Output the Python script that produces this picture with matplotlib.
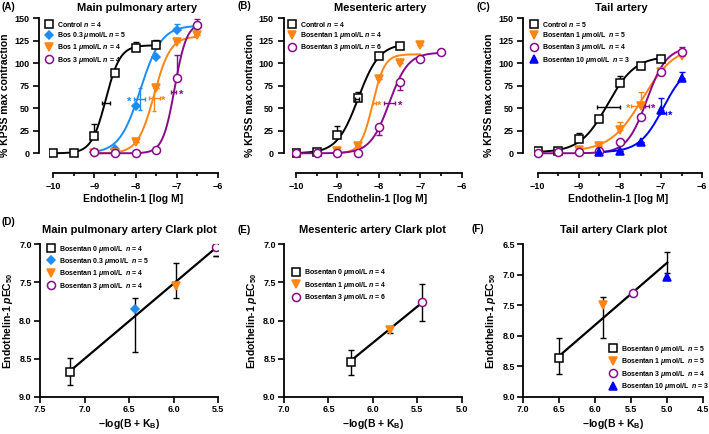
import numpy as np
import matplotlib
matplotlib.use("Agg")
import matplotlib.pyplot as plt
from matplotlib.ticker import MultipleLocator, FormatStrFormatter

plt.rcParams['font.family'] = ['Liberation Sans', 'DejaVu Sans']
plt.rcParams['font.weight'] = 'bold'
plt.rcParams['axes.labelweight'] = 'bold'
plt.rcParams['axes.titleweight'] = 'bold'
plt.rcParams['mathtext.fontset'] = 'custom'
plt.rcParams['mathtext.rm'] = 'Liberation Sans:bold'
plt.rcParams['mathtext.it'] = 'Liberation Sans:italic:bold'
plt.rcParams['mathtext.bf'] = 'Liberation Sans:bold'

BLACK = '#000000'
ORANGE = '#ff8514'
PURPLE = '#8a0a8a'
LBLUE = '#1e8cf0'
BLUE = '#0000ff'

W, H = 709, 434

# ---------------- data: concentration-response (top row) ----------------
# (A) main pulmonary artery
a_ctrl_x = [-10, -9.5, -9, -8.5, -8, -7.5]
a_ctrl_y = [0, 0, 19, 89, 117, 120]
a_ctrl_up = [0, 0, 14, 0, 7, 6]
a_b03_x = [-9, -8.5, -8, -7.5, -7, -6.5]
a_b03_y = [1, 5, 52, 107, 137, 140]
a_b03_up = [0, 0, 0, 0, 7, 0]
a_b1_x = [-9, -8.5, -8, -7.5, -7, -6.5]
a_b1_y = [0, 0, 12, 73, 124, 131]
a_b1_up = [0, 0, 0, 0, 0, 0]
a_b3_x = [-9, -8.5, -8, -7.5, -7, -6.5]
a_b3_y = [1, 0, 0, 4, 84, 143]
a_b3_up = [0, 0, 0, 0, 25, 6]
# fitted curve parameters: bottom, top, logEC50, hill, x start, x end
a_fits = [(0, 120, -8.72, 2.5, -10, -7.5), (0, 142, -7.88, 1.7, -9, -6.5),
          (0, 130, -7.55, 2.2, -9, -6.5), (0, 145, -7.05, 3.0, -9, -6.5)]
# EC50 markers: x, y, xerr, yerr, asterisk x (None = no asterisk)
a_ec50 = [(-8.72, 56, 0.10, 0, None), (-7.90, 60, 0.13, 12, -8.16),
          (-7.54, 61, 0.13, 14, -7.32), (-7.08, 68, 0.06, 0, -6.89)]

# (B) mesenteric artery
b_ctrl_x = [-10, -9.5, -9, -8.5, -8, -7.5]
b_ctrl_y = [0, 1, 20, 61, 108, 119]
b_ctrl_up = [0, 0, 10, 7, 0, 0]
b_b1_x = [-9, -8.5, -8, -7.5, -7]
b_b1_y = [2, 8, 82, 100, 120]
b_b1_up = [0, 0, 0, 0, 0]
b_b3_x = [-10, -9.5, -9, -8.5, -8, -7.5, -7, -6.5]
b_b3_y = [0, 0, 0, 0, 29, 79, 105, 112]
b_b3_dn = [0, 0, 0, 0, 9, 9, 0, 0]
b_fits = [(0, 122, -8.50, 1.7, -10, -7.5), (0, 110, -8.15, 3.0, -9, -7),
          (0, 112, -7.75, 1.9, -10, -6.5)]
b_ec50 = [(-8.53, 60, 0.05, 0, None), (-8.11, 56, 0.04, 0, -8.00),
          (-7.75, 56, 0.13, 0, -7.49)]

# (C) tail artery
c_ctrl_x = [-10, -9.5, -9, -8.5, -8, -7.5, -7]
c_ctrl_y = [2, 3, 16, 38, 78, 97, 105]
c_ctrl_up = [0, 0, 7, 0, 8, 0, 3]
c_b1_x = [-9, -8.5, -8, -7.5, -7, -6.5]
c_b1_y = [4, 8, 26, 53, 90, 108]
c_b1_up = [0, 0, 9, 15, 0, 0]
c_b3_x = [-10, -9.5, -9, -8.5, -8, -7.5, -7, -6.5]
c_b3_y = [0, 1, 1, 2, 12, 40, 90, 113]
c_b3_up = [0, 0, 0, 0, 0, 0, 0, 5]
c_b10_x = [-8.5, -8, -7.5, -7, -6.5]
c_b10_y = [1, 3, 13, 48, 84]
c_b10_up = [0, 0, 0, 13, 6]
c_fits = [(1, 108, -8.30, 1.3, -10, -7), (2, 120, -7.45, 1.1, -9, -6.5),
          (0, 118, -7.35, 1.8, -10, -6.5), (1, 100, -6.95, 1.5, -8.5, -6.5)]
c_ec50 = [(-8.28, 51, 0.28, 0, None), (-7.62, 52, 0.12, 0, -7.80),
          (-7.35, 52, 0.05, 0, -7.19), (-6.95, 45, 0.07, 0, -6.79)]

# ---------------- data: Clark plots (bottom row) ----------------
d_x = [7.16, 6.43, 5.97, 5.53]
d_y = [8.68, 7.85, 7.55, 7.04]
d_err_lo = [8.49, 7.71, 7.24, 7.15]
d_err_hi = [8.85, 8.41, 7.71, 7.15]
d_line = ([7.16, 5.53], [8.66, 7.05])

e_x = [6.25, 5.81, 5.45]
e_y = [8.55, 8.12, 7.76]
e_err_lo = [8.39, 8.08, 7.52]
e_err_hi = [8.72, 8.16, 8.01]
e_line = ([6.25, 5.45], [8.53, 7.77])

f_x = [6.51, 5.89, 5.48, 5.00]
f_y = [8.36, 7.50, 7.30, 7.03]
f_err_lo = [8.03, 7.36, 7.30, 6.63]
f_err_hi = [8.63, 8.03, 7.30, 6.97]
f_line = ([6.51, 5.00], [8.34, 6.80])


def hill(x, bottom, top, ec50, h):
    return bottom + (top - bottom) / (1 + 10 ** ((ec50 - x) * h))


def add_axes_px(fig, left, top, right, bottom):
    return fig.add_axes([left / W, 1 - bottom / H, (right - left) / W, (bottom - top) / H])


def series_style(color, marker, filled, ms):
    face = color if filled else 'white'
    return dict(marker=marker, ms=ms, mfc=face, mec=color, mew=1.1, ls='none')


def style_top(ax, title, title_x, spine_out):
    ax.set_xlim(-10.1, -6)
    ax.set_ylim(-22, 152)
    for s in ['top', 'right']:
        ax.spines[s].set_visible(False)
    ax.spines['left'].set_bounds(0, 150)
    ax.spines['left'].set_position(('outward', spine_out))
    ax.spines['bottom'].set_bounds(-10, -6)
    for s in ['left', 'bottom']:
        ax.spines[s].set_linewidth(1.3)
    ax.set_yticks([0, 25, 50, 75, 100, 125, 150])
    ax.set_xticks([-10, -9, -8, -7, -6])
    ax.xaxis.set_minor_locator(MultipleLocator(0.5))
    ax.tick_params(which='both', direction='out', width=1.2, labelsize=6.5)
    ax.tick_params(axis='y', which='major', length=4.5, pad=2.5)
    ax.tick_params(axis='x', which='major', length=3.5, pad=3)
    ax.tick_params(axis='x', which='minor', length=2.5)
    ax.set_xlabel('Endothelin-1 [log M]', fontsize=7.5, labelpad=2)
    ax.set_ylabel('% KPSS max contraction', fontsize=7.5, labelpad=3)
    ax.set_title(title, fontsize=8, pad=4, x=title_x)


def draw_series(ax, x, y, up, dn, color, marker, filled, ms, fit, label):
    lo = dn if dn is not None else [0] * len(y)
    hi = up if up is not None else [0] * len(y)
    ax.errorbar(x, y, yerr=[lo, hi], fmt='none', ecolor=color, elinewidth=1,
                capsize=2, capthick=1, zorder=2)
    b, t, e, h, x0, x1 = fit
    xs = np.linspace(x0, x1, 200)
    ax.plot(xs, hill(xs, b, t, e, h), color=color, lw=1.4, zorder=3)
    ax.plot(x, y, label=label, zorder=4, **series_style(color, marker, filled, ms))


def draw_ec50(ax, ec, color):
    x, y, xe, ye, ast = ec
    ax.errorbar([x], [y], xerr=[xe], yerr=[ye] if ye else None, fmt='none',
                ecolor=color, elinewidth=1, capsize=1.5, capthick=1, zorder=5)
    if ast is not None:
        ax.text(ast, y - 3, '*', color=color, fontsize=8, ha='center',
                va='center', zorder=6)


def add_legend(ax, x, y):
    ax.legend(loc='upper left', bbox_to_anchor=(x, y), frameon=False,
              fontsize=5.0, handlelength=1.0, handletextpad=0.6,
              labelspacing=0.2, borderpad=0, borderaxespad=0)


def style_clark(ax, title, xlim, ylim):
    ax.set_xlim(*xlim)
    ax.set_ylim(*ylim)
    for s in ['top', 'right']:
        ax.spines[s].set_visible(False)
    for s in ['left', 'bottom']:
        ax.spines[s].set_linewidth(1.3)
    ax.xaxis.set_major_locator(MultipleLocator(0.5))
    ax.yaxis.set_major_locator(MultipleLocator(0.5))
    ax.xaxis.set_major_formatter(FormatStrFormatter('%.1f'))
    ax.yaxis.set_major_formatter(FormatStrFormatter('%.1f'))
    ax.tick_params(direction='out', width=1.2, length=4.5, labelsize=6.5, pad=1.5)
    ax.set_xlabel(r'$-$log(B + K$_\mathrm{B}$)', fontsize=7.5, labelpad=2)
    ax.set_ylabel(r'Endothelin-1 $p$EC$_{50}$', fontsize=7.5, labelpad=3)
    ax.set_title(title, fontsize=8, pad=8)


def draw_clark(ax, xs, ys, lo, hi, line, styles, labels):
    ax.plot(line[0], line[1], color='black', lw=1.6, zorder=2)
    for i in range(len(xs)):
        c = (lo[i] + hi[i]) / 2
        ax.errorbar([xs[i]], [c], yerr=[[c - lo[i]], [hi[i] - c]], fmt='none',
                    ecolor='black', elinewidth=1, capsize=2, capthick=1, zorder=3)
    for i in range(len(xs)):
        color, marker, filled, ms = styles[i]
        ax.plot([xs[i]], [ys[i]], label=labels[i], zorder=4,
                **series_style(color, marker, filled, ms))


fig = plt.figure(figsize=(W / 100, H / 100), dpi=100)

# ---- (A)
axA = add_axes_px(fig, 48.9, 16.5, 218, 173.1)
draw_series(axA, a_ctrl_x, a_ctrl_y, a_ctrl_up, None, BLACK, 's', False, 5.6, a_fits[0],
            r'Control $n$ = 4')
draw_series(axA, a_b03_x, a_b03_y, a_b03_up, None, LBLUE, 'D', True, 4.5, a_fits[1],
            r'Bos 0.3 $\mu$mol/L $n$ = 5')
draw_series(axA, a_b1_x, a_b1_y, a_b1_up, None, ORANGE, 'v', True, 6.2, a_fits[2],
            r'Bos 1 $\mu$mol/L $n$ = 4')
draw_series(axA, a_b3_x, a_b3_y, a_b3_up, None, PURPLE, 'o', False, 5.8, a_fits[3],
            r'Bos 3 $\mu$mol/L $n$ = 4')
for ec, col in zip(a_ec50, [BLACK, LBLUE, ORANGE, PURPLE]):
    draw_ec50(axA, ec, col)
style_top(axA, 'Main pulmonary artery', 0.52, 6.8)
add_legend(axA, -0.018, 0.98)

# ---- (B)
axB = add_axes_px(fig, 291.9, 16.5, 461.7, 173.1)
draw_series(axB, b_ctrl_x, b_ctrl_y, b_ctrl_up, None, BLACK, 's', False, 5.6, b_fits[0],
            r'Control $n$ = 4')
draw_series(axB, b_b1_x, b_b1_y, b_b1_up, None, ORANGE, 'v', True, 6.2, b_fits[1],
            r'Bosentan 1 $\mu$mol/L $n$ = 4')
draw_series(axB, b_b3_x, b_b3_y, None, b_b3_dn, PURPLE, 'o', False, 5.8, b_fits[2],
            r'Bosentan 3 $\mu$mol/L $n$ = 6')
for ec, col in zip(b_ec50, [BLACK, ORANGE, PURPLE]):
    draw_ec50(axB, ec, col)
style_top(axB, 'Mesenteric artery', 0.52, 6.0)
add_legend(axB, -0.018, 0.98)

# ---- (C)
axC = add_axes_px(fig, 533.6, 16.5, 702.3, 173.1)
draw_series(axC, c_ctrl_x, c_ctrl_y, c_ctrl_up, None, BLACK, 's', False, 5.6, c_fits[0],
            r'Control $n$ = 5')
draw_series(axC, c_b1_x, c_b1_y, c_b1_up, None, ORANGE, 'v', True, 6.2, c_fits[1],
            r'Bosentan 1 $\mu$mol/L  $n$ = 5')
draw_series(axC, c_b3_x, c_b3_y, c_b3_up, None, PURPLE, 'o', False, 5.8, c_fits[2],
            r'Bosentan 3 $\mu$mol/L  $n$ = 4')
draw_series(axC, c_b10_x, c_b10_y, c_b10_up, None, BLUE, '^', True, 6.2, c_fits[3],
            r'Bosentan 10 $\mu$mol/L  $n$ = 3')
for ec, col in zip(c_ec50, [BLACK, ORANGE, PURPLE, BLUE]):
    draw_ec50(axC, ec, col)
style_top(axC, 'Tail artery', 0.52, 7.4)
add_legend(axC, -0.018, 0.98)

# ---- (D)
axD = add_axes_px(fig, 40, 244.3, 218.3, 396.7)
draw_clark(axD, d_x, d_y, d_err_lo, d_err_hi, d_line,
           [(BLACK, 's', False, 5.6), (LBLUE, 'D', True, 4.5),
            (ORANGE, 'v', True, 6.2), (PURPLE, 'o', False, 5.8)],
           [r'Bosentan 0 $\mu$mol/L  $n$ = 4', r'Bosentan 0.3 $\mu$mol/L  $n$ = 5',
            r'Bosentan 1 $\mu$mol/L  $n$ = 4', r'Bosentan 3 $\mu$mol/L  $n$ = 4'])
style_clark(axD, 'Main pulmonary artery Clark plot', (7.5, 5.5), (9.0, 7.0))
add_legend(axD, 0.045, 1.005)

# ---- (E)
axE = add_axes_px(fig, 284, 244.3, 461.7, 396.7)
draw_clark(axE, e_x, e_y, e_err_lo, e_err_hi, e_line,
           [(BLACK, 's', False, 5.6), (ORANGE, 'v', True, 6.2), (PURPLE, 'o', False, 5.8)],
           [r'Bosentan 0 $\mu$mol/L $n$ = 4', r'Bosentan 1 $\mu$mol/L $n$ = 4',
            r'Bosentan 3 $\mu$mol/L $n$ = 6'])
style_clark(axE, 'Mesenteric artery Clark plot', (7.0, 5.0), (9.0, 7.0))
add_legend(axE, 0.05, 0.85)

# ---- (F)
axF = add_axes_px(fig, 523.3, 244.3, 703.3, 396.7)
draw_clark(axF, f_x, f_y, f_err_lo, f_err_hi, f_line,
           [(BLACK, 's', False, 5.6), (ORANGE, 'v', True, 6.2),
            (PURPLE, 'o', False, 5.8), (BLUE, '^', True, 6.2)],
           [r'Bosentan 0 $\mu$mol/L  $n$ = 5', r'Bosentan 1 $\mu$mol/L  $n$ = 5',
            r'Bosentan 3 $\mu$mol/L  $n$ = 4', r'Bosentan 10 $\mu$mol/L  $n$ = 3'])
style_clark(axF, 'Tail artery Clark plot', (7.0, 4.5), (9.0, 6.5))
add_legend(axF, 0.48, 0.347)

# panel tags
tags = ['(A)', '(B)', '(C)', '(D)', '(E)', '(F)']
tag_px = [(2, 2), (237, 1), (477, 2), (2, 217), (237, 225), (472, 224)]
for t, (x, y) in zip(tags, tag_px):
    fig.text(x / W, 1 - y / H, t, fontsize=7, fontweight='bold', ha='left', va='top')

fig.savefig('out.png', dpi=100)
